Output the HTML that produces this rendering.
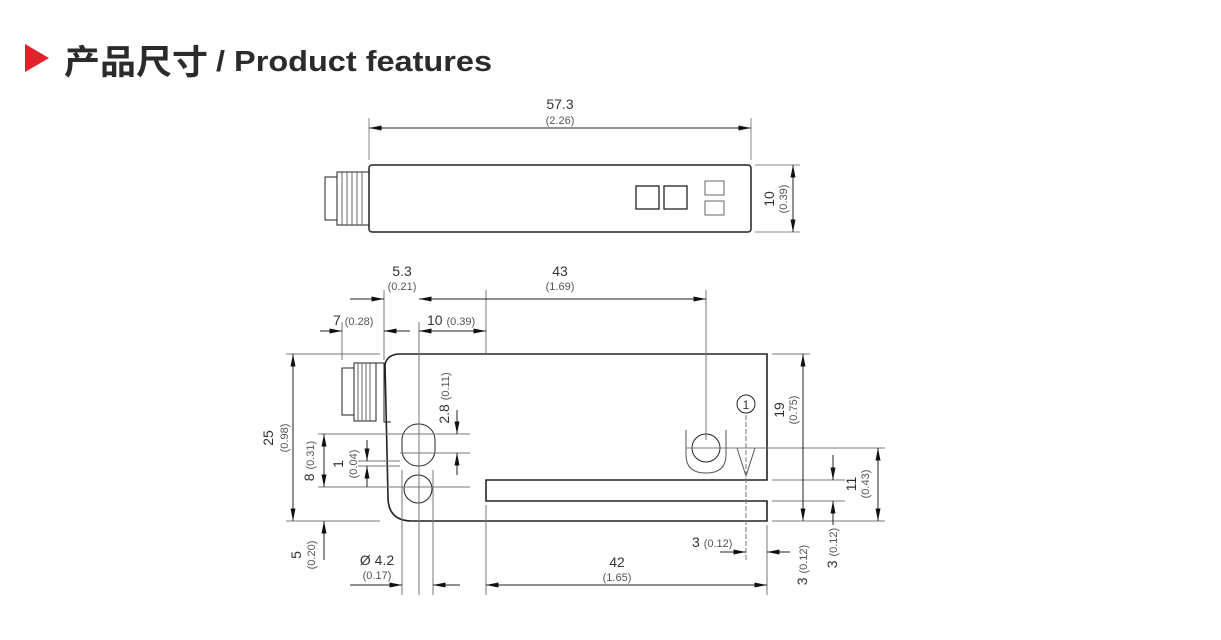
<!DOCTYPE html>
<html><head><meta charset="utf-8"><style>
html,body{margin:0;padding:0;background:#fff;width:1221px;height:640px;overflow:hidden}
svg{position:absolute;left:0;top:0}
text{font-family:"Liberation Sans","DejaVu Sans",sans-serif;fill:#333}
.t{font-size:14px}.s{font-size:11px;fill:#555}
</style></head><body>
<svg width="1221" height="640" viewBox="0 0 1221 640">
<defs>
<marker id="a" viewBox="0 0 10 4" refX="10" refY="2" markerWidth="16" markerHeight="5" markerUnits="userSpaceOnUse" orient="auto-start-reverse"><path d="M0,0L10,2L0,4z" fill="#111"/></marker>
</defs>
<polygon points="25,44 49,58 25,72" fill="#e02229"/>
<text x="64" y="74" textLength="144" lengthAdjust="spacingAndGlyphs" style="font-family:'Noto Sans CJK SC',sans-serif;font-weight:bold;font-size:34px;fill:#2d2a2a">产品尺寸</text>
<text x="216" y="71" textLength="276" lengthAdjust="spacingAndGlyphs" style="font-family:'Liberation Sans',sans-serif;font-weight:bold;font-size:29px;fill:#2d2a2a">/ Product features</text>

<g stroke="#222" fill="none" stroke-width="1">
<line x1="369" y1="118" x2="369" y2="160" stroke="#888"/><line x1="751" y1="118" x2="751" y2="160" stroke="#888"/>
<line x1="369" y1="128" x2="751" y2="128" marker-start="url(#a)" marker-end="url(#a)"/>
<rect x="369" y="165" width="382" height="67" rx="3" stroke-width="1.5"/>
<rect x="325" y="177" width="12" height="43"/>
<rect x="337" y="172" width="32" height="53"/>
<path d="M342 172v53M347 172v53M352 172v53M357 172v53M362 172v53" stroke="#666"/>
<rect x="636" y="186" width="23" height="23" stroke-width="1.3"/><rect x="664" y="186" width="23" height="23" stroke-width="1.3"/>
<rect x="705" y="181" width="19" height="14" stroke="#666"/><rect x="705" y="201" width="19" height="14" stroke="#666"/>
<line x1="755" y1="165" x2="800" y2="165" stroke="#888"/><line x1="755" y1="232" x2="800" y2="232" stroke="#888"/>
<line x1="793" y1="165" x2="793" y2="232" marker-start="url(#a)" marker-end="url(#a)"/>

<path d="M385 364 Q388 354 400 354 L767 354 L767 480 L486 480 L486 501 L767 501 L767 521 L412 521 Q388 521 388 497 Z" stroke-width="1.6"/>
<rect x="342" y="368" width="12" height="47"/>
<rect x="354" y="363" width="22" height="58"/>
<path d="M358 363v58M362 363v58M366 363v58M370 363v58" stroke="#666"/>
<path d="M376 363h8v59h7" />
<rect x="402" y="424" width="33" height="42" rx="16"/>
<circle cx="418" cy="489" r="14"/>
<circle cx="706" cy="448" r="14"/>
<path d="M686 430 v25 q0 18 20 18 q20 0 20 -18 v-25" stroke="#555"/>
<path d="M737 448 L746 476 L755 448" stroke="#555"/>
<circle cx="746" cy="404" r="9"/>
<g stroke="#777">
<line x1="342" y1="322" x2="342" y2="360"/><line x1="384" y1="290" x2="384" y2="360"/>
<line x1="419" y1="322" x2="419" y2="595"/><line x1="486" y1="290" x2="486" y2="354"/>
<line x1="706" y1="290" x2="706" y2="440"/>
<line x1="286" y1="354" x2="380" y2="354"/><line x1="286" y1="521" x2="380" y2="521"/>
<line x1="318" y1="434" x2="470" y2="434"/><line x1="318" y1="487" x2="470" y2="487"/>
<line x1="358" y1="461" x2="400" y2="461"/><line x1="358" y1="466" x2="400" y2="466"/>
<line x1="400" y1="453" x2="470" y2="453"/>
<line x1="402" y1="470" x2="402" y2="595"/><line x1="433" y1="470" x2="433" y2="595"/>
<line x1="486" y1="505" x2="486" y2="595"/><line x1="767" y1="525" x2="767" y2="595"/>
<line x1="746" y1="415" x2="746" y2="560" stroke-dasharray="5,2"/>
<line x1="772" y1="354" x2="810" y2="354"/><line x1="686" y1="448" x2="885" y2="448"/>
<line x1="772" y1="480" x2="845" y2="480"/><line x1="772" y1="501" x2="845" y2="501"/>
<line x1="772" y1="521" x2="885" y2="521"/>
</g>
<line x1="350" y1="299" x2="384" y2="299" marker-end="url(#a)"/>
<line x1="419" y1="299" x2="706" y2="299" marker-start="url(#a)" marker-end="url(#a)"/>
<line x1="320" y1="331" x2="342" y2="331" marker-end="url(#a)"/>
<line x1="384" y1="331" x2="410" y2="331" marker-start="url(#a)"/>
<line x1="419" y1="331" x2="486" y2="331" marker-start="url(#a)" marker-end="url(#a)"/>
<line x1="293" y1="354" x2="293" y2="521" marker-start="url(#a)" marker-end="url(#a)"/>
<line x1="324" y1="434" x2="324" y2="487" marker-start="url(#a)" marker-end="url(#a)"/>
<line x1="324" y1="521" x2="324" y2="560" marker-start="url(#a)"/>
<line x1="367" y1="440" x2="367" y2="461" marker-end="url(#a)"/>
<line x1="367" y1="466" x2="367" y2="487" marker-start="url(#a)"/>
<line x1="457" y1="410" x2="457" y2="434" marker-end="url(#a)"/>
<line x1="457" y1="453" x2="457" y2="475" marker-start="url(#a)"/>
<line x1="350" y1="585" x2="402" y2="585" marker-end="url(#a)"/>
<line x1="433" y1="585" x2="460" y2="585" marker-start="url(#a)"/>
<line x1="486" y1="585" x2="767" y2="585" marker-start="url(#a)" marker-end="url(#a)"/>
<line x1="720" y1="552" x2="746" y2="552" marker-end="url(#a)"/>
<line x1="767" y1="552" x2="790" y2="552" marker-start="url(#a)"/>
<line x1="803" y1="354" x2="803" y2="521" marker-start="url(#a)" marker-end="url(#a)"/>
<line x1="833" y1="455" x2="833" y2="480" marker-end="url(#a)"/>
<line x1="833" y1="501" x2="833" y2="525" marker-start="url(#a)"/>
<line x1="878" y1="448" x2="878" y2="521" marker-start="url(#a)" marker-end="url(#a)"/>
</g>

<text x="746" y="409" class="t" text-anchor="middle" style="font-size:12px">1</text>
<text x="560" y="109" class="t" text-anchor="middle">57.3</text><text x="560" y="124" class="s" text-anchor="middle">(2.26)</text>
<text class="t" transform="translate(774,199) rotate(-90)" text-anchor="middle">10</text>
<text class="s" transform="translate(787,199) rotate(-90)" text-anchor="middle">(0.39)</text>
<text x="402" y="276" class="t" text-anchor="middle">5.3</text><text x="402" y="290" class="s" text-anchor="middle">(0.21)</text>
<text x="560" y="276" class="t" text-anchor="middle">43</text><text x="560" y="290" class="s" text-anchor="middle">(1.69)</text>
<text x="333" y="325" class="t">7 <tspan class="s">(0.28)</tspan></text>
<text x="427" y="325" class="t">10 <tspan class="s">(0.39)</tspan></text>
<text class="t" transform="translate(273,438) rotate(-90)" text-anchor="middle">25</text>
<text class="s" transform="translate(288,438) rotate(-90)" text-anchor="middle">(0.98)</text>
<text class="t" transform="translate(314,461) rotate(-90)" text-anchor="middle">8 <tspan class="s">(0.31)</tspan></text>
<text class="t" transform="translate(343,464) rotate(-90)" text-anchor="middle">1</text>
<text class="s" transform="translate(357,464) rotate(-90)" text-anchor="middle">(0.04)</text>
<text class="t" transform="translate(449,398) rotate(-90)" text-anchor="middle">2.8 <tspan class="s">(0.11)</tspan></text>
<text class="t" transform="translate(301,555) rotate(-90)" text-anchor="middle">5</text>
<text class="s" transform="translate(315,555) rotate(-90)" text-anchor="middle">(0.20)</text>
<text x="377" y="565" class="t" text-anchor="middle">Ø 4.2</text><text x="377" y="579" class="s" text-anchor="middle">(0.17)</text>
<text x="617" y="567" class="t" text-anchor="middle">42</text><text x="617" y="581" class="s" text-anchor="middle">(1.65)</text>
<text x="692" y="547" class="t">3 <tspan class="s">(0.12)</tspan></text>
<text class="t" transform="translate(784,410) rotate(-90)" text-anchor="middle">19</text>
<text class="s" transform="translate(797,410) rotate(-90)" text-anchor="middle">(0.75)</text>
<text class="t" transform="translate(856,484) rotate(-90)" text-anchor="middle">11</text>
<text class="s" transform="translate(869,484) rotate(-90)" text-anchor="middle">(0.43)</text>
<text class="t" transform="translate(807,565) rotate(-90)" text-anchor="middle">3 <tspan class="s">(0.12)</tspan></text>
<text class="t" transform="translate(837,548) rotate(-90)" text-anchor="middle">3 <tspan class="s">(0.12)</tspan></text>
</svg>
</body></html>
